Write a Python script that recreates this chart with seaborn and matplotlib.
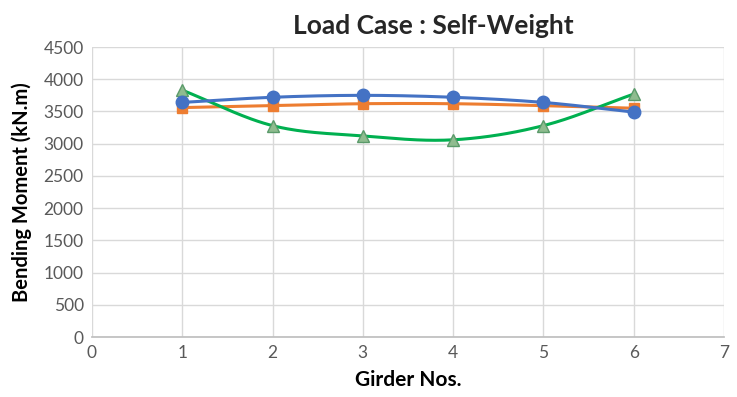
import numpy as np
import pandas as pd
import matplotlib
matplotlib.use("Agg")
import matplotlib.pyplot as plt
import seaborn as sns

girders = [1, 2, 3, 4, 5, 6]
series_a = [3640, 3720, 3750, 3720, 3640, 3490]   # blue circles
series_b = [3560, 3590, 3620, 3620, 3590, 3550]   # orange squares
series_c = [3830, 3280, 3120, 3060, 3280, 3770]   # green triangles

sns.set_theme(style="whitegrid")
plt.rcParams['font.family'] = ['Lato', 'DejaVu Sans']

def smooth(x, y, n=30):
    x = np.asarray(x, float); y = np.asarray(y, float)
    px = np.concatenate([[2*x[0]-x[1]], x, [2*x[-1]-x[-2]]])
    py = np.concatenate([[2*y[0]-y[1]], y, [2*y[-1]-y[-2]]])
    xs, ys = [], []
    for i in range(1, len(px)-2):
        t = np.linspace(0, 1, n, endpoint=False)
        for arr, out in ((px, xs), (py, ys)):
            p0, p1, p2, p3 = arr[i-1], arr[i], arr[i+1], arr[i+2]
            m1 = (p2 - p0) / 2
            m2 = (p3 - p1) / 2
            h00 = 2*t**3 - 3*t**2 + 1; h10 = t**3 - 2*t**2 + t
            h01 = -2*t**3 + 3*t**2; h11 = t**3 - t**2
            out.extend(h00*p1 + h10*m1 + h01*p2 + h11*m2)
    xs.append(x[-1]); ys.append(y[-1])
    return np.array(xs), np.array(ys)

fig = plt.figure(figsize=(7.37, 3.97), dpi=100)
ax = fig.add_axes([0.1248, 0.1511, 0.8576, 0.7305])

styles = [
    (series_b, "#ED7D31", "s", "#ED7D31", "#ED7D31", 7),
    (series_c, "#00B050", "^", "#8FBC8F", "#5A9A6A", 8),
    (series_a, "#4472C4", "o", "#4472C4", "#4472C4", 9),
]
for vals, col, mk, fc, ec, ms in styles:
    sx, sy = smooth(girders, vals)
    sns.lineplot(x=sx, y=sy, ax=ax, color=col, linewidth=2.2, sort=False, zorder=3)
    df = pd.DataFrame({"g": girders, "v": vals})
    ax.plot(df["g"], df["v"], linestyle="none", marker=mk, markersize=ms,
            markerfacecolor=fc, markeredgecolor=ec, markeredgewidth=1, zorder=4)

ax.set_xlim(0, 7)
ax.set_ylim(0, 4500)
ax.set_xticks(range(0, 8))
ax.set_yticks(range(0, 4501, 500))
ax.grid(True, color="#D9D9D9", linewidth=1)
for s in ["top", "right", "left"]:
    ax.spines[s].set_visible(False)
ax.spines["bottom"].set_color("#BFBFBF")
ax.tick_params(axis="both", colors="#595959", labelsize=12.5, length=0, pad=6)
ax.set_xlabel("Girder Nos.", fontsize=15, fontweight="bold", color="black", labelpad=6)
ax.set_ylabel("Bending Moment (kN.m)", fontsize=14.5, fontweight="bold", color="black", labelpad=8)
fig.suptitle("Load Case : Self-Weight", x=0.588, y=0.965, fontsize=19, fontweight="bold")
fig.savefig("out.png", dpi=100, facecolor="white")
